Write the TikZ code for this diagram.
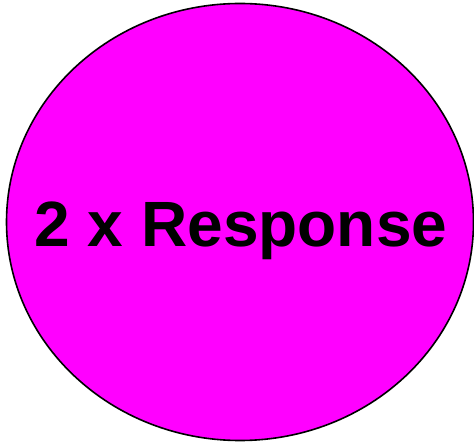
\documentclass[tikz,border=0pt]{standalone}
\usepackage{fontspec}
\setmainfont{Liberation Sans}
\definecolor{magentafill}{RGB}{255,0,255}
\begin{document}
\begin{tikzpicture}[x=1pt,y=-1pt,
  bubble/.style={draw=black,line width=1.6pt,fill=magentafill},
  label/.style={font=\fontsize{64}{72}\selectfont\bfseries,anchor=base,inner sep=0pt}]
\useasboundingbox (0,0) rectangle (474,443);
\path[bubble] (240,222) ellipse [x radius=233.5, y radius=218.5];
\node[label] (t) at (241,247) {2 x Response};
\end{tikzpicture}
\end{document}
